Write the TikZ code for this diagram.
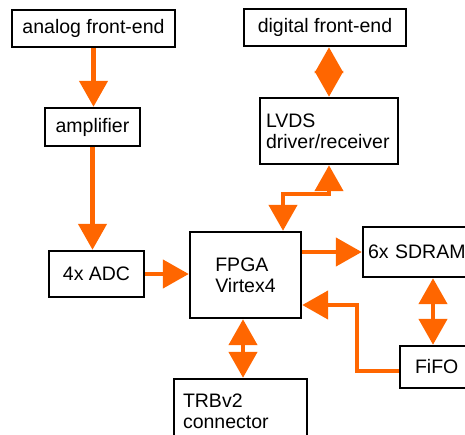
\documentclass[tikz,border=0pt]{standalone}
\usepackage{fontspec}
\setmainfont{Liberation Sans}
\usetikzlibrary{arrows.meta}
\definecolor{linkorange}{HTML}{FF6600}
\begin{document}
\begin{tikzpicture}[x=1pt,y=-1pt,
  every node/.style={font=\fontsize{19.5}{21}\selectfont},
  box/.style={draw=black,line width=2.4pt,fill=white,inner sep=0pt},
  link/.style={draw=linkorange,line width=4.5pt,
    arrows={-Triangle[width=28pt,length=26pt,fill=linkorange]}},
  dlink/.style={draw=linkorange,line width=4.5pt,
    arrows={Triangle[width=28pt,length=26pt,fill=linkorange]-Triangle[width=28pt,length=26pt,fill=linkorange]}}]
\clip (0,0) rectangle (465,434);

% blocks
\node[box,minimum width=163pt,minimum height=37pt] (afe) at (93.5,28.5) {analog front-end};
\node[box,minimum width=95pt,minimum height=38pt] (amp) at (92.5,127) {amplifier};
\node[box,minimum width=95pt,minimum height=46pt] (adc) at (96.5,274) {4x ADC};
\node[box,minimum width=162pt,minimum height=37pt] (dfe) at (325,27.5) {digital front-end};
\node[box,minimum width=138pt,minimum height=66pt,text width=126pt,align=left] (lvds) at (329,131) {LVDS\\driver/receiver};
\node[box,minimum width=111pt,minimum height=86pt,align=left] (fpga) at (245.5,275) {FPGA\\Virtex4};
\node[box,minimum width=117pt,minimum height=50pt,text width=107pt,align=left] (sdram) at (421.5,252) {6x SDRAM};
\node[box,minimum width=80pt,minimum height=42pt,text width=50pt,align=left] (fifo) at (440,367) {FiFO};
\node[box,minimum width=133pt,minimum height=65pt,text width=115pt,align=left] (trb) at (240.5,411.5) {TRBv2\\connector};

% connectors
\draw[link] (afe.south) -- (afe.south |- amp.north);
\draw[link] (amp.south) -- (amp.south |- adc.north);
\draw[dlink] ([xshift=4pt]dfe.south) -- ([xshift=4pt]dfe.south |- lvds.north);
\draw[dlink] (lvds.south) -- ++(0,29) -| ([xshift=37.5pt]fpga.north);
\draw[link] (adc.east) -- (adc.east -| fpga.west);
\draw[link] (sdram.west -| fpga.east) -- (sdram.west);
\draw[dlink] ([xshift=-2.5pt]fpga.south) -- ([xshift=-2.5pt]fpga.south |- trb.north);
\draw[dlink] ([xshift=11.5pt]sdram.south) -- ([xshift=11.5pt]sdram.south |- fifo.north);
\draw[link] ([yshift=-4pt]fifo.west) -- ++(-42,0) |- ([yshift=-30pt]fpga.east);
\end{tikzpicture}
\end{document}
